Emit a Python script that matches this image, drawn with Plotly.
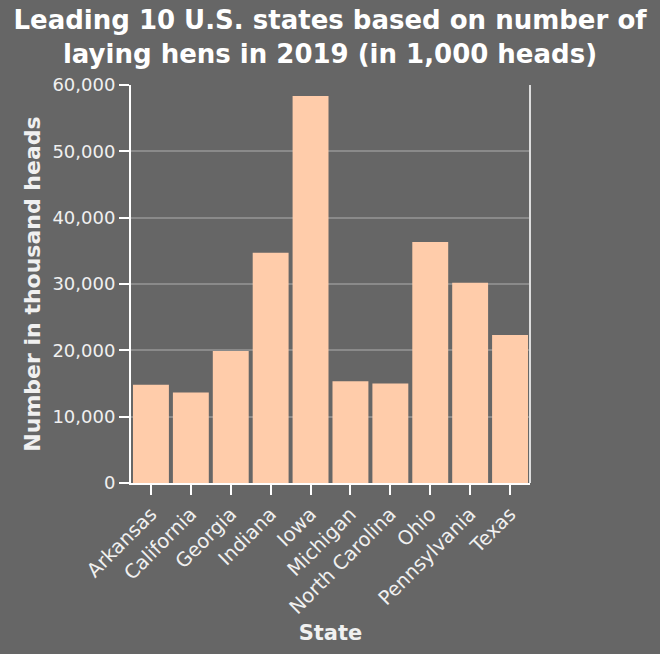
import plotly.graph_objects as go

states = ["Arkansas", "California", "Georgia", "Indiana", "Iowa", "Michigan",
          "North Carolina", "Ohio", "Pennsylvania", "Texas"]
hens = [14830, 13630, 19910, 34710, 58360, 15330, 14990, 36330, 30200, 22320]
y_ticks = [0, 10000, 20000, 30000, 40000, 50000, 60000]
y_tick_labels = ["0", "10,000", "20,000", "30,000", "40,000", "50,000", "60,000"]

bg = "#666666"
font_family = "DejaVu Sans, sans-serif"

fig = go.Figure()
fig.add_trace(go.Bar(
    x=states, y=hens,
    marker=dict(color="#FFCCAA", line=dict(width=0)),
))

fig.update_layout(
    width=660, height=654,
    paper_bgcolor=bg, plot_bgcolor=bg,
    margin=dict(l=131, r=130, t=85, b=171),
    bargap=0.1,
    showlegend=False,
    font=dict(family=font_family, color="#F0F0F0", size=18),
    title=dict(
        text="<b>Leading 10 U.S. states based on number of<br>laying hens in 2019 (in 1,000 heads)</b>",
        x=0.5, xanchor="center", y=0.955, yanchor="top",
        font=dict(family=font_family, size=26, color="#FFFFFF"),
    ),
    xaxis=dict(
        automargin=False,
        title=dict(text="<b>State</b>", font=dict(size=21, color="#F0F0F0"), standoff=8),
        tickangle=-45,
        ticks="outside", ticklen=10, tickwidth=2, tickcolor="#FFFFFF",
        showline=True, linecolor="#FFFFFF", linewidth=2,
        showgrid=False,
        tickfont=dict(size=19.5),
    ),
    yaxis=dict(
        automargin=False,
        title=dict(text="<b>Number in thousand heads</b>", font=dict(size=22, color="#F0F0F0"), standoff=6),
        range=[0, 60000],
        tickvals=y_ticks, ticktext=y_tick_labels,
        ticks="outside", ticklen=10, tickwidth=2, tickcolor="#FFFFFF",
        showline=True, linecolor="#FFFFFF", linewidth=2,
        showgrid=True, gridcolor="#8A8A8A", gridwidth=2,
        zeroline=False,
        tickfont=dict(size=18),
    ),
    shapes=[dict(type="line", xref="paper", yref="paper", x0=1, x1=1, y0=0, y1=1,
                 line=dict(color="#DDDDDD", width=2))],
)

fig.write_html("out.html", config={"displayModeBar": False},
               post_script="document.body.style.margin='0';document.body.style.overflow='hidden';")
